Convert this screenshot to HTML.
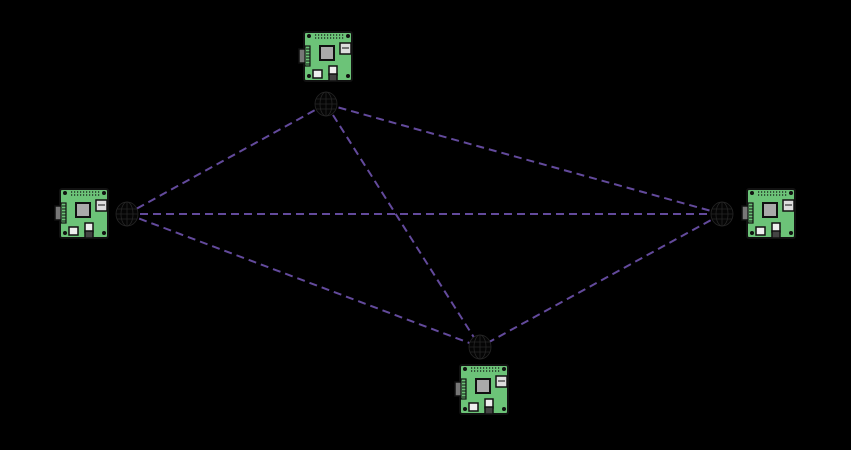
<!DOCTYPE html>
<html><head><style>html,body{margin:0;padding:0;background:#000;width:851px;height:450px;overflow:hidden}</style></head>
<body>
<svg width="851" height="450" viewBox="0 0 851 450" xmlns="http://www.w3.org/2000/svg">
<defs>
<g id="pi">
  <rect x="5" y="1" width="48" height="49" rx="2" fill="#6cc378" stroke="#111" stroke-width="2"/>
  <rect x="0" y="18" width="7" height="14" fill="#777" stroke="#111" stroke-width="1.5"/>
  <rect x="6" y="15" width="5" height="20" fill="#6cc378" stroke="#111" stroke-width="1.2"/>
  <g stroke="#111" stroke-width="1"><line x1="7" y1="18" x2="11" y2="18"/><line x1="7" y1="21" x2="11" y2="21"/><line x1="7" y1="24" x2="11" y2="24"/><line x1="7" y1="27" x2="11" y2="27"/><line x1="7" y1="30" x2="11" y2="30"/><line x1="7" y1="33" x2="11" y2="33"/></g>
  <rect x="21" y="15" width="14" height="14" fill="#aaa" stroke="#111" stroke-width="2"/>
  <rect x="41" y="12" width="11" height="11" fill="#ddd" stroke="#111" stroke-width="1.5"/>
  <line x1="43" y1="17" x2="50" y2="17" stroke="#111"/>
  <rect x="14" y="39" width="9" height="8" fill="#eee" stroke="#111" stroke-width="1.5"/>
  <rect x="30" y="35" width="8" height="9" fill="#eee" stroke="#111" stroke-width="1.5"/>
  <rect x="30" y="43" width="8" height="7" fill="#444" stroke="#111" stroke-width="1.5"/>
  <g fill="#111"><circle cx="10" cy="5" r="2"/><circle cx="49" cy="5" r="2"/><circle cx="10" cy="45" r="2"/><circle cx="49" cy="45" r="2"/></g>
  <g stroke="#111" stroke-width="1.2" stroke-dasharray="1.2 1.8"><line x1="16" y1="4" x2="46" y2="4"/><line x1="16" y1="7" x2="46" y2="7"/></g>
</g>
<g id="globe" fill="none" stroke="#262626" stroke-width="0.8">
  <ellipse cx="0" cy="0" rx="11" ry="12" fill="#050505"/>
  <ellipse cx="0" cy="0" rx="6" ry="12"/>
  <line x1="0" y1="-12" x2="0" y2="12"/>
  <line x1="-11" y1="0" x2="11" y2="0"/>
  <line x1="-10" y1="-5" x2="10" y2="-5"/>
  <line x1="-10" y1="5" x2="10" y2="5"/>
</g>
</defs>
<g stroke="#634a9c" stroke-width="2" stroke-dasharray="8 5" fill="none">
  <line x1="326" y1="104" x2="127" y2="214"/>
  <line x1="326" y1="104" x2="722" y2="214"/>
  <line x1="326" y1="104" x2="480" y2="347"/>
  <line x1="127" y1="214" x2="722" y2="214"/>
  <line x1="127" y1="214" x2="480" y2="347"/>
  <line x1="722" y1="214" x2="480" y2="347"/>
</g>
<use href="#globe" x="326" y="104"/>
<use href="#globe" x="127" y="214"/>
<use href="#globe" x="722" y="214"/>
<use href="#globe" x="480" y="347"/>
<use href="#pi" x="299" y="31"/>
<use href="#pi" x="55" y="188"/>
<use href="#pi" x="742" y="188"/>
<use href="#pi" x="455" y="364"/>
</svg>
</body></html>
